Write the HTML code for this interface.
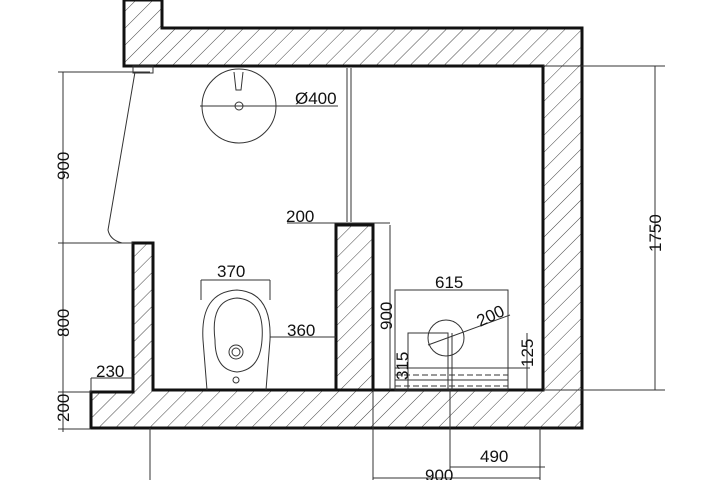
<!DOCTYPE html>
<html><head><style>body{margin:0;background:#fff}svg{display:block}text{font-family:"Liberation Sans",sans-serif;font-size:17px;fill:#111}</style></head><body>
<svg width="720" height="480" viewBox="0 0 720 480">
<defs><pattern id="h" patternUnits="userSpaceOnUse" width="12" height="12" patternTransform="rotate(45)"><line x1="0" y1="0" x2="0" y2="12" stroke="#444" stroke-width="1"/></pattern></defs>
<g stroke="#111" stroke-width="3" fill="url(#h)">
<polygon points="124,0 162,0 162,28 582,28 582,428 91,428 91,392 133,392 133,243 153,243 153,390 543,390 543,66 124,66"/>
<rect x="336" y="225" width="37" height="165"/>
</g>
<g stroke="#333" stroke-width="1" fill="none">
<line x1="63" y1="72" x2="63" y2="432"/>
<line x1="58" y1="72" x2="150" y2="72"/><line x1="58" y1="243" x2="133" y2="243"/>
<line x1="58" y1="392" x2="91" y2="392"/><line x1="58" y1="429" x2="91" y2="429"/>
<line x1="91" y1="378" x2="133" y2="378"/><line x1="91" y1="378" x2="91" y2="392"/>
<line x1="655" y1="66" x2="655" y2="390"/>
<line x1="543" y1="66" x2="665" y2="66"/><line x1="543" y1="390" x2="665" y2="390"/>
<rect x="133" y="66" width="20" height="7"/>
<path d="M135,72 L108,230 Q110,240 122,243"/>
<circle cx="239" cy="106" r="37"/><circle cx="239" cy="106" r="4"/>
<line x1="200" y1="106" x2="338" y2="106"/>
<path d="M234,72 L236,90 L241,90 L243,72"/>
<line x1="347" y1="68" x2="347" y2="222"/><line x1="351" y1="68" x2="351" y2="222"/>
<line x1="287" y1="223" x2="390" y2="223"/>
<line x1="201" y1="280" x2="270" y2="280"/><line x1="201" y1="280" x2="201" y2="300"/><line x1="270" y1="280" x2="270" y2="300"/>
<path d="M207,390 L203,340 Q200,292 237,290 Q272,292 270,340 L266,390"/>
<path d="M215,340 Q210,300 237,298 Q265,300 262,340 Q260,370 237,372 Q215,370 215,340Z"/>
<circle cx="236" cy="352" r="7"/><circle cx="236" cy="352" r="4"/><circle cx="236" cy="380" r="3"/>
<line x1="270" y1="337" x2="336" y2="337"/>
<line x1="390" y1="225" x2="390" y2="390"/>
<rect x="395" y="290" width="113" height="100"/>
<circle cx="446" cy="338" r="18"/>
<line x1="428" y1="345" x2="510" y2="315"/>
<rect x="408" y="333" width="40" height="57"/>
<line x1="448" y1="333" x2="448" y2="390"/><line x1="452" y1="333" x2="452" y2="390"/>
<line x1="395" y1="368" x2="530" y2="368"/><line x1="395" y1="380" x2="508" y2="380"/>
<line x1="395" y1="375" x2="508" y2="375" stroke-dasharray="6,3"/><line x1="395" y1="386" x2="508" y2="386" stroke-dasharray="6,3"/>
<line x1="527" y1="333" x2="527" y2="390"/>
<line x1="150" y1="428" x2="150" y2="480"/><line x1="373" y1="390" x2="373" y2="480"/>
<line x1="450" y1="390" x2="450" y2="470"/><line x1="540" y1="428" x2="540" y2="480"/>
<line x1="450" y1="467" x2="545" y2="467"/>
<line x1="373" y1="478" x2="540" y2="478"/>
</g>
<text x="295" y="104">Ø400</text>
<text x="286" y="222">200</text>
<text x="217" y="277">370</text>
<text x="287" y="336">360</text>
<text x="96" y="377">230</text>
<text x="435" y="288">615</text>
<text x="480" y="462">490</text>
<text x="425" y="481">900</text>
<text transform="translate(69,180) rotate(-90)">900</text>
<text transform="translate(69,337) rotate(-90)">800</text>
<text transform="translate(69,422) rotate(-90)">200</text>
<text transform="translate(661,252) rotate(-90)">1750</text>
<text transform="translate(392,330) rotate(-90)">900</text>
<text transform="translate(408,380) rotate(-90)">315</text>
<text transform="translate(533,367) rotate(-90)">125</text>
<text transform="translate(480,327) rotate(-25)">200</text>
</svg>
</body></html>
